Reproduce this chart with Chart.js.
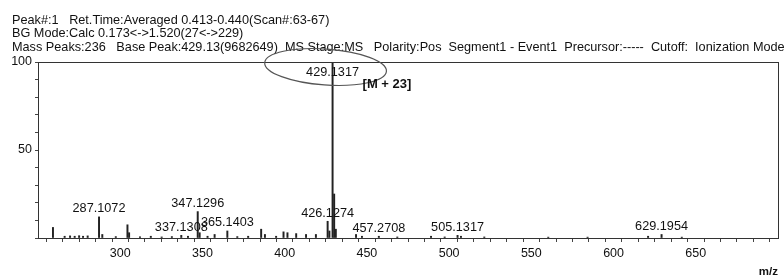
<!DOCTYPE html>
<html>
<head>
<meta charset="utf-8">
<script src="https://cdn.jsdelivr.net/npm/chart.js@4.4.0/dist/chart.umd.min.js"></script>
<style>
  html, body { margin: 0; padding: 0; background: #fff; }
  #msChart { display: block; }
</style>
</head>
<body>
<canvas id="msChart" width="784" height="279"></canvas>
<script>
// header lines of the spectrum report
const headerLines = [
    'Peak#:1   Ret.Time:Averaged 0.413-0.440(Scan#:63-67)',
    'BG Mode:Calc 0.173<->1.520(27<->229)',
    'Mass Peaks:236   Base Peak:429.13(9682649)  MS Stage:MS   Polarity:Pos  Segment1 - Event1  Precursor:-----  Cutoff:  Ionization Mode'
];

// spectrum sticks (m/z, relative intensity %)
const mz = [259.1, 266.2, 269.5, 272.3, 275.0, 277.4, 280.2, 287.1072, 289.1, 297.3,
    304.4, 305.4, 312.0, 318.6, 325.2, 331.4, 337.1308, 341.2, 347.1296, 348.3,
    353.1, 357.4, 365.1403, 371.2, 377.8, 385.7, 388.0, 394.8, 399.3, 401.7,
    407.0, 413.0, 419.0, 426.1274, 427.2, 429.1317, 430.1, 431.1, 443.4, 447.0,
    457.2708, 468.5, 489.0, 497.3, 505.1317, 507.2, 521.4, 560.3, 584.2, 621.0,
    629.1954, 641.5];
const intensity = [6, 1, 1.2, 1, 1.3, 1, 1.2, 12, 2, 0.8,
    7.5, 3, 0.7, 1, 0.6, 0.8, 1.5, 1, 15, 3,
    1, 2, 4, 0.8, 1, 5, 2, 1, 3.5, 3,
    2.5, 2, 2, 9.5, 4, 100, 25, 5, 2, 1,
    1, 0.6, 1, 0.6, 1.5, 1, 0.6, 0.5, 0.5, 1,
    2, 0.5];

// annotated peaks
const peakLabels = ['287.1072', '337.1308', '347.1296', '365.1403', '426.1274',
    '429.1317', '457.2708', '505.1317', '629.1954'];
const basePeak = 429.1317;
const adductText = '[M + 23]';

const xTicksShown = [300, 350, 400, 450, 500, 550, 600, 650];
const yTicksShown = [50, 100];

const FONT = "'Liberation Sans', Arial, sans-serif";

// report header, frame, peak labels and the circled base peak
const spectrumDecor = {
    id: 'spectrumDecor',
    afterDatasetsDraw(chart) {
        const ctx = chart.ctx;
        const a = chart.chartArea;
        const xs = chart.scales.x;
        const ys = chart.scales.y;
        ctx.save();

        ctx.fillStyle = '#111';
        ctx.font = '12.7px ' + FONT;
        ctx.textAlign = 'left';
        ctx.textBaseline = 'middle';
        headerLines.forEach(function (line, i) {
            ctx.fillText(line, 12, 20 + i * 13.5);
        });

        ctx.strokeStyle = '#333';
        ctx.lineWidth = 1;
        ctx.strokeRect(a.left + 0.5, a.top + 0.5, a.right - a.left, a.bottom - a.top);

        ctx.textAlign = 'center';
        peakLabels.forEach(function (lab) {
            const v = parseFloat(lab);
            const i = mz.indexOf(v);
            const px = xs.getPixelForValue(v);
            let py = ys.getPixelForValue(intensity[i]) - 8;
            if (intensity[i] >= 100) py = ys.getPixelForValue(100) + 10;
            ctx.fillText(lab, px, py);
        });

        // ellipse round the base peak
        const bx = xs.getPixelForValue(basePeak);
        ctx.strokeStyle = '#555';
        ctx.lineWidth = 1.2;
        ctx.beginPath();
        ctx.ellipse(bx - 7, a.top + 5, 61, 18, 0.07, 0, Math.PI * 2);
        ctx.stroke();

        ctx.fillStyle = '#111';
        ctx.font = 'bold 13px ' + FONT;
        ctx.textAlign = 'left';
        ctx.fillText(adductText, bx + 30, ys.getPixelForValue(87));
        ctx.restore();
    }
};

const data = {
    datasets: [{
        label: 'Intensity',
        data: mz.map(function (m, i) { return { x: m, y: intensity[i] }; }),
        backgroundColor: '#222',
        borderWidth: 0,
        barThickness: 1.3
    }]
};

const config = {
    type: 'bar',
    data: data,
    options: {
        responsive: false,
        animation: false,
        layout: { padding: { left: 12, right: 6, top: 62, bottom: 0 } },
        plugins: {
            legend: { display: false },
            tooltip: { enabled: false },
            title: { display: false }
        },
        scales: {
            x: {
                type: 'linear',
                min: 250,
                max: 700,
                offset: false,
                afterFit: function (s) { s.height = 41; },
                ticks: {
                    stepSize: 10,
                    autoSkip: false,
                    maxRotation: 0,
                    padding: 4,
                    color: '#111',
                    font: { family: FONT, size: 12.5 },
                    callback: function (v) { return xTicksShown.includes(v) ? String(v) : ''; }
                },
                grid: { drawOnChartArea: false, tickLength: 4, color: '#444' },
                border: { color: '#333' },
                title: {
                    display: true,
                    text: 'm/z',
                    align: 'end',
                    color: '#111',
                    font: { family: FONT, size: 11.5, weight: 'bold' },
                    padding: { top: 0, bottom: 0 }
                }
            },
            y: {
                min: 0,
                max: 100,
                afterFit: function (s) { s.width = 26; },
                ticks: {
                    stepSize: 10,
                    autoSkip: false,
                    padding: 3,
                    color: '#111',
                    font: { family: FONT, size: 12.5 },
                    callback: function (v) { return yTicksShown.includes(v) ? String(v) : ''; }
                },
                grid: { drawOnChartArea: false, tickLength: 3, color: '#444' },
                border: { color: '#333' }
            }
        }
    },
    plugins: [spectrumDecor]
};

const msChart = new Chart(document.getElementById('msChart').getContext('2d'), config);
</script>
</body>
</html>
